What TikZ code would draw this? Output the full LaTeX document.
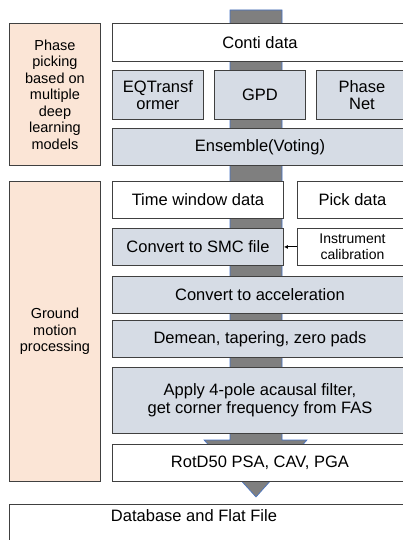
\documentclass[tikz,border=0pt]{standalone}
\usepackage{fontspec}
\setmainfont{Liberation Sans}
\usepackage{tikz}
\usetikzlibrary{arrows.meta,positioning,calc}
\definecolor{stagefill}{RGB}{251,229,214}
\definecolor{procfill}{RGB}{214,220,229}
\definecolor{boxline}{RGB}{64,64,64}
\definecolor{flowfill}{RGB}{127,127,127}
\definecolor{flowline}{RGB}{68,114,196}
\tikzset{
  >=Stealth,
  every picture/.append style={line width=0.9pt},
}

\begin{document}
\begin{tikzpicture}[
  x=1pt, y=-1pt,
  every node/.style={font=\fontsize{16.5pt}{17.5pt}\selectfont},
  stage/.style={draw=boxline, fill=stagefill, anchor=north west, align=center, inner sep=0pt, minimum width=91pt,
    font=\fontsize{14.5pt}{16.5pt}\selectfont},
  plain/.style={draw=boxline, fill=white, anchor=north west, align=center, inner sep=0pt, minimum height=37pt},
  proc/.style={draw=boxline, fill=procfill, anchor=north west, align=center, inner sep=0pt, minimum height=37pt},
  arr/.style={-{Latex[length=4pt,width=4pt]}, line width=1pt, black},
  flow/.style={draw=flowline, fill=flowfill, line width=0.6pt}
]
\useasboundingbox (0,0) rectangle (403,540);
\clip (0,0) rectangle (403,540);

% Main flow arrow (behind everything)
\coordinate (top) at (256,10);
\coordinate (tip) at (256,497);
\draw[flow] ($(top)+(-26,0)$) -- ($(top)+(26,0)$) -- (282,440) -- (307,440) -- (tip)
  -- (204,440) -- (230,440) -- cycle;

% Stage labels on the left
\node[stage, minimum height=142pt] (picking) at (9,23) {Phase\\picking\\based on\\multiple\\deep\\learning\\models};
\node[stage, minimum height=300pt] (ground) at (9,181) {Ground\\motion\\processing};

% Phase picking
\node[plain, minimum width=295pt, minimum height=38pt] (conti) at (112,23) {Conti data};
\node[proc, minimum width=91pt, minimum height=49pt] (eqt) at (112,70) {EQTransf\\ormer};
\node[proc, minimum width=91pt, minimum height=49pt] (gpd) at (214,70) {GPD};
\node[proc, minimum width=91pt, minimum height=49pt] (pnet) at (316,70) {Phase\\Net};
\node[proc, minimum width=295pt] (ensemble) at (112,128) {Ensemble(Voting)};

% Ground motion processing
\node[plain, minimum width=171pt] (twin) at (112,181) {Time window data};
\node[plain, minimum width=110pt] (pickdat) at (297,181) {Pick data};
\node[proc, minimum width=171pt] (smc) at (112,228) {Convert to SMC file};
\node[plain, minimum width=110pt, font=\fontsize{14pt}{16pt}\selectfont] (instr) at (297,228) {Instrument\\calibration};
\node[proc, minimum width=295pt] (accel) at (112,276) {Convert to acceleration};
\node[proc, minimum width=295pt] (demean) at (112,320) {Demean, tapering, zero pads};
\node[proc, minimum width=295pt, minimum height=66pt] (filter) at (112,367) {Apply 4-pole acausal filter,\\get corner frequency from FAS};
\node[plain, minimum width=295pt] (rotd) at (112,444) {RotD50 PSA, CAV, PGA};

\draw[arr] (instr.west) -- (smc.east);

% Output
\node[plain, minimum width=398pt, minimum height=56pt] (db) at (9,504) {};
\node (dbtext) at ($(db.north west)+(185,12)$) {Database and Flat File};

\end{tikzpicture}
\end{document}
